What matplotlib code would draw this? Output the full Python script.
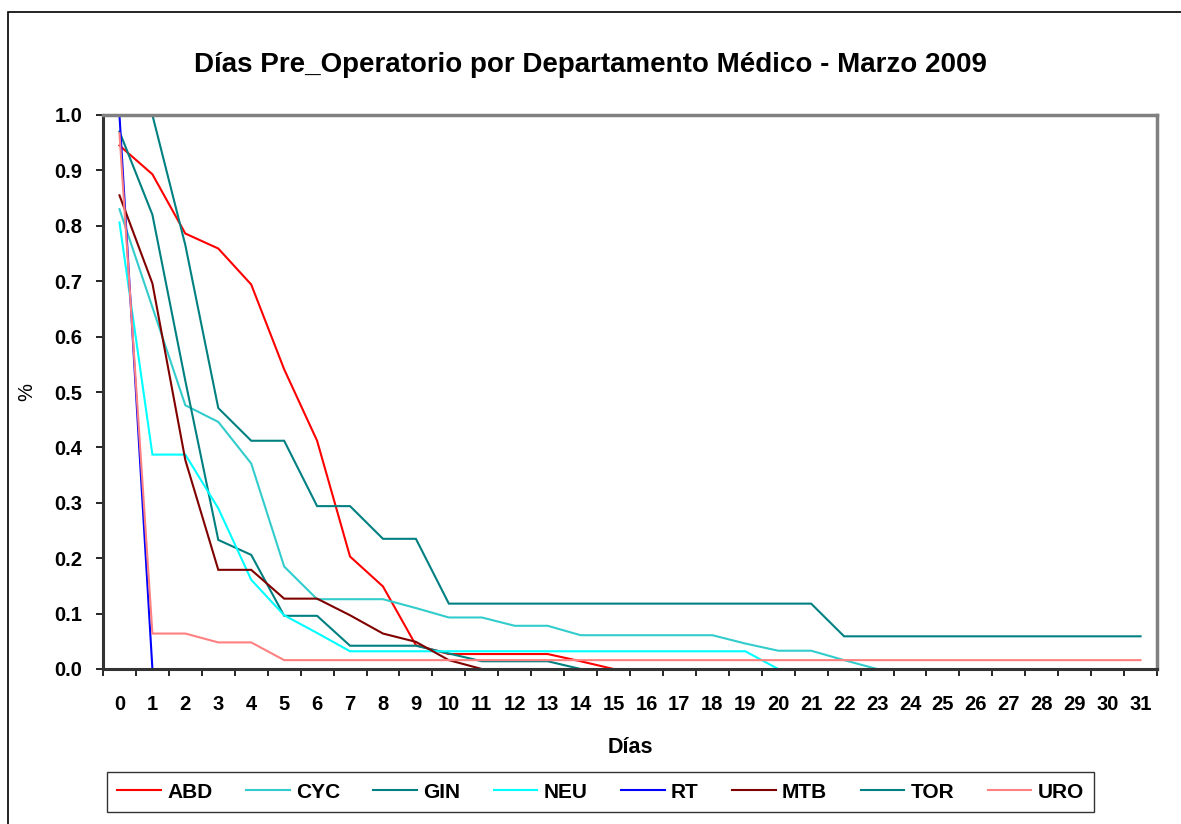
import matplotlib
matplotlib.use('Agg')
import matplotlib.pyplot as plt
from matplotlib.patches import Rectangle

plt.rcParams['font.family'] = ['Liberation Sans', 'DejaVu Sans']

# categorias (dias) y fraccion de pacientes por departamento
dias = list(range(32))
abd = [0.945, 0.893, 0.786, 0.759, 0.694, 0.541, 0.412, 0.203, 0.149, 0.043, 0.027, 0.027, 0.027, 0.027, 0.014, 0.0]
cyc = [0.83, 0.653, 0.476, 0.446, 0.371, 0.185, 0.126, 0.126, 0.126, 0.11, 0.093, 0.093, 0.078, 0.078, 0.061, 0.061,
       0.061, 0.061, 0.061, 0.046, 0.033, 0.033, 0.016, 0.0]
gin = [0.97, 0.82, 0.52, 0.233, 0.206, 0.096, 0.096, 0.042, 0.042, 0.042, 0.028, 0.014, 0.014, 0.014, 0.0]
neu = [0.806, 0.387, 0.387, 0.29, 0.161, 0.097, 0.065, 0.032, 0.032, 0.032, 0.032, 0.032, 0.032, 0.032, 0.032, 0.032,
       0.032, 0.032, 0.032, 0.032, 0.0]
rt = [1.0, 0.0]
mtb = [0.855, 0.696, 0.377, 0.179, 0.179, 0.127, 0.127, 0.097, 0.064, 0.049, 0.016, 0.0]
tor = [1.0, 1.0, 0.765, 0.471, 0.412, 0.412, 0.294, 0.294, 0.235, 0.235, 0.118, 0.118, 0.118, 0.118, 0.118, 0.118,
       0.118, 0.118, 0.118, 0.118, 0.118, 0.118, 0.059, 0.059, 0.059, 0.059, 0.059, 0.059, 0.059, 0.059, 0.059, 0.059]
uro = [0.967, 0.064, 0.064, 0.048, 0.048, 0.016, 0.016, 0.016, 0.016, 0.016, 0.016, 0.016, 0.016, 0.016, 0.016, 0.016,
       0.016, 0.016, 0.016, 0.016, 0.016, 0.016, 0.016, 0.016, 0.016, 0.016, 0.016, 0.016, 0.016, 0.016, 0.016, 0.016]

series = [('ABD', abd, '#FF0000'), ('CYC', cyc, '#33CCCC'), ('GIN', gin, '#008080'), ('NEU', neu, '#00FFFF'),
          ('RT', rt, '#0000FF'), ('MTB', mtb, '#800000'), ('TOR', tor, '#008080'), ('URO', uro, '#FF8080')]
yticks = [0.0, 0.1, 0.2, 0.3, 0.4, 0.5, 0.6, 0.7, 0.8, 0.9, 1.0]

W, H = 1181, 824
fig = plt.figure(figsize=(W / 100, H / 100), dpi=100)
ax = fig.add_axes([103 / W, 1 - 669 / H, (1157 - 103) / W, (669 - 115) / H])

for name, vals, col in series:
    ax.plot(dias[:len(vals)], vals, color=col, lw=1.5, label=name, solid_joinstyle='miter')

ax.set_xlim(-0.5, 31.5)
ax.set_ylim(0, 1.0)
ax.set_xticks(dias)
ax.set_xticklabels([str(d) for d in dias], fontsize=14.5, fontweight='bold')
ax.set_xticks([d - 0.5 for d in dias] + [31.5], minor=True)
ax.tick_params(axis='x', which='major', length=0, pad=19)
ax.tick_params(axis='x', which='minor', length=5, width=1.2, direction='out')
ax.set_yticks(yticks)
ax.set_yticklabels([f'{v:.1f}' for v in yticks], fontsize=14.5, fontweight='bold')
ax.tick_params(axis='y', length=5, width=1.2, direction='out', pad=10)

for s in ['top', 'right']:
    ax.spines[s].set_color('#808080'); ax.spines[s].set_linewidth(2.5)
for s in ['left', 'bottom']:
    ax.spines[s].set_color('#333333'); ax.spines[s].set_linewidth(2.2)

ax.set_xlabel('Días', fontsize=15.5, fontweight='bold', labelpad=16)
fig.text(27 / W, 1 - 392 / H, '%', rotation=90, fontsize=14.5, ha='center', va='center')
fig.text(0.5, 1 - 65 / H, 'Días Pre_Operatorio por Departamento Médico - Marzo 2009',
         fontsize=20, fontweight='bold', ha='center', va='center')

leg = ax.legend(loc='center', bbox_to_anchor=(600.5 / W, 1 - 792 / H), bbox_transform=fig.transFigure,
                ncol=8, prop={'weight': 'bold', 'size': 15}, handlelength=2.1, handletextpad=0.3,
                columnspacing=1.6, fancybox=False, edgecolor='black', borderpad=0.5)
leg.get_frame().set_linewidth(1.0)

fig.add_artist(Rectangle((7.5 / W, -0.02), 1.1, 1 - 12 / H + 0.02, transform=fig.transFigure,
                         fill=False, ec='black', lw=1.2))

fig.savefig('out.png', dpi=100)
